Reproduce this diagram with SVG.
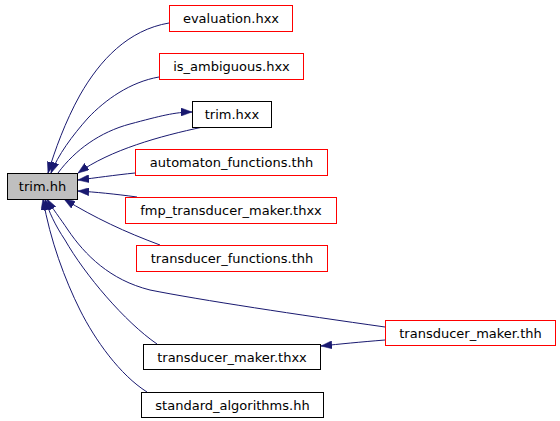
<svg xmlns="http://www.w3.org/2000/svg" width="560" height="421" viewBox="0 0 560 421">
<style>
  .box { fill: #ffffff; stroke-width: 1; }
  .red { stroke: #ff0000; }
  .blk { stroke: #000000; }
  .cur { fill: #bfbfbf; stroke: #000000; stroke-width: 1; }
  .lbl { font-family: "DejaVu Sans", "Liberation Sans", sans-serif; font-size: 13px; fill: #000000; text-anchor: middle; }
  .edge { fill: none; stroke: #191970; stroke-width: 1; }
</style>
<defs>
  <marker id="arr" viewBox="0 0 11 8" refX="11" refY="4" markerWidth="11" markerHeight="8" markerUnits="userSpaceOnUse" orient="auto">
    <path d="M0,0 L11,4 L0,8 z" fill="#191970" stroke="#191970" stroke-width="0.5"/>
  </marker>
</defs>
<rect width="560" height="421" fill="#ffffff"/>
<g id="connectors">
  <path class="edge" marker-end="url(#arr)" d="M169,23 C128,30 100,60 80,95 C65,122 55,150 48,173"/>
  <path class="edge" marker-end="url(#arr)" d="M159,77 C130,82 105,100 88,118 C72,136 58,155 51,173"/>
  <path class="edge" marker-end="url(#arr)" d="M58,173 C75,150 100,132 130,124 C160,116 175,112 192,112"/>
  <path class="edge" marker-end="url(#arr)" d="M203,127 C160,136 110,150 78,173"/>
  <path class="edge" marker-end="url(#arr)" d="M135,173 C115,175 95,178 78,180"/>
  <path class="edge" marker-end="url(#arr)" d="M137,197 C115,194 95,192 78,191"/>
  <path class="edge" marker-end="url(#arr)" d="M160,245 C125,232 95,218 64,199"/>
  <path class="edge" marker-end="url(#arr)" d="M385,327 C300,315 200,300 150,290 C110,280 85,255 68,230 C60,218 52,208 47,199"/>
  <path class="edge" marker-end="url(#arr)" d="M157,344 C125,322 85,275 65,240 C55,225 49,212 45,199"/>
  <path class="edge" marker-end="url(#arr)" d="M147,392 C120,375 95,340 80,310 C65,280 50,240 43,199"/>
  <path class="edge" marker-end="url(#arr)" d="M385,340 C360,342 340,344 321,346"/>
</g>
<g id="node-trim-hh">
  <rect class="cur" x="7.5" y="173.5" width="70" height="26"/>
  <text class="lbl" x="42.5" y="191">trim.hh</text>
</g>
<g id="node-evaluation">
  <rect class="box red" x="169.5" y="5.5" width="123" height="26"/>
  <text class="lbl" x="231" y="23">evaluation.hxx</text>
</g>
<g id="node-is-ambiguous">
  <rect class="box red" x="159.5" y="53.5" width="144" height="26"/>
  <text class="lbl" x="231.5" y="71">is_ambiguous.hxx</text>
</g>
<g id="node-trim-hxx">
  <rect class="box blk" x="192.5" y="101.5" width="79" height="26"/>
  <text class="lbl" x="232" y="119">trim.hxx</text>
</g>
<g id="node-automaton-functions">
  <rect class="box red" x="135.5" y="149.5" width="192" height="26"/>
  <text class="lbl" x="231.5" y="167">automaton_functions.thh</text>
</g>
<g id="node-fmp-transducer-maker">
  <rect class="box red" x="125.5" y="197.5" width="211" height="26"/>
  <text class="lbl" x="231" y="215">fmp_transducer_maker.thxx</text>
</g>
<g id="node-transducer-functions">
  <rect class="box red" x="136.5" y="245.5" width="191" height="26"/>
  <text class="lbl" x="232" y="263">transducer_functions.thh</text>
</g>
<g id="node-transducer-maker-thh">
  <rect class="box red" x="385.5" y="320.5" width="170" height="25"/>
  <text class="lbl" x="470.5" y="337.5">transducer_maker.thh</text>
</g>
<g id="node-transducer-maker-thxx">
  <rect class="box blk" x="143.5" y="344.5" width="177" height="25"/>
  <text class="lbl" x="232" y="361.5">transducer_maker.thxx</text>
</g>
<g id="node-standard-algorithms">
  <rect class="box blk" x="141.5" y="392.5" width="182" height="25"/>
  <text class="lbl" x="232.5" y="409.5">standard_algorithms.hh</text>
</g>
</svg>
